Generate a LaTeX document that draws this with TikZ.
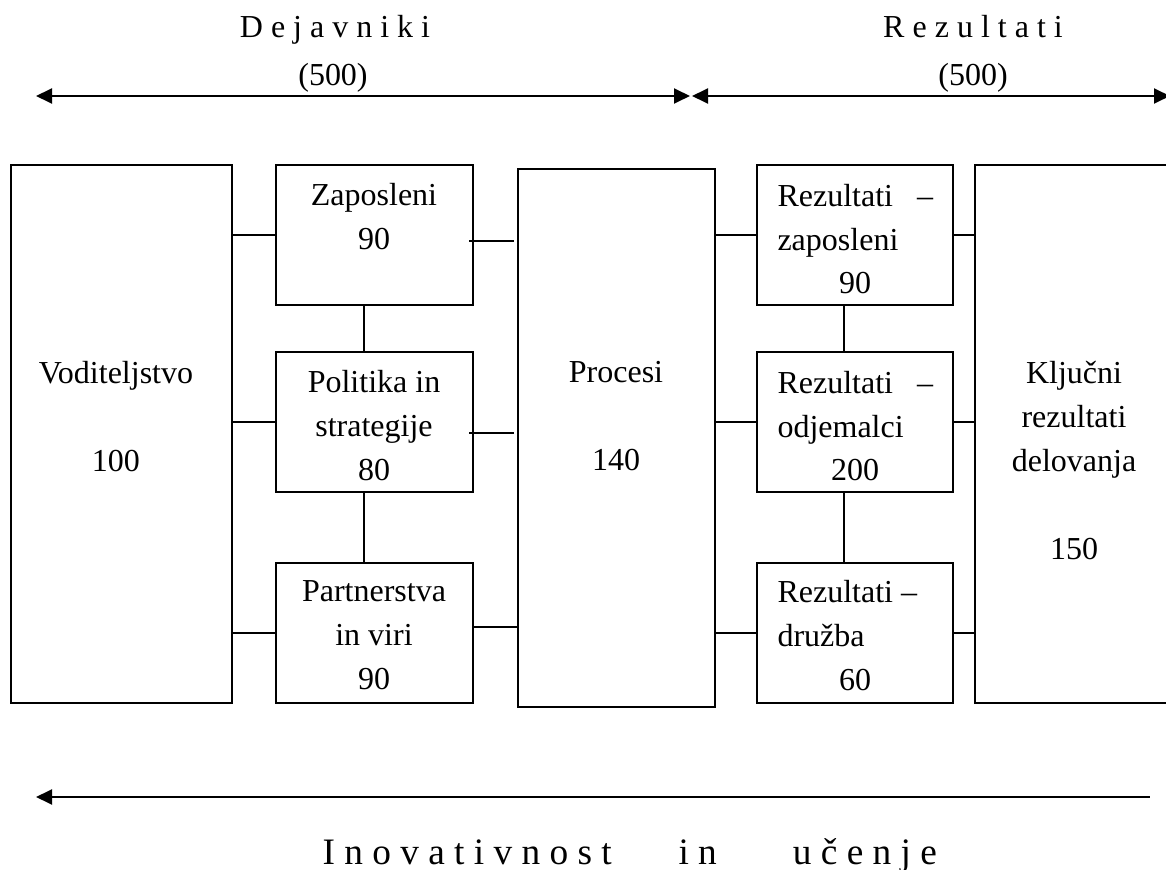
\documentclass[tikz,border=0pt]{standalone}
\usepackage{fontspec}
\setmainfont{Liberation Serif}
\usetikzlibrary{arrows.meta,calc,fit}

\begin{document}
\begin{tikzpicture}
   [x=0.375pt, y=-0.375pt,
    >={Triangle[length=6pt,width=5.6pt]},
    box/.style={draw, line width=0.9pt, inner sep=0pt, outer sep=0pt},
    link/.style={line width=0.75pt},
    arrline/.style={line width=0.8pt},
    txt/.style={font=\fontsize{12pt}{16.5pt}\selectfont, inner sep=0pt, align=center},
    big/.style={font=\fontsize{14pt}{17pt}\selectfont, inner sep=0pt}]
  \useasboundingbox (0,0) rectangle (1166,870);
     % draw headings
     \node[txt, anchor=base] (dej) at (335,38) {D e j a v n i k i};
     \node[txt, anchor=base] (dejsum) at (333,86) {(500)};
     \node[txt, anchor=base] (rez) at (973,38) {R e z u l t a t i};
     \node[txt, anchor=base] (rezsum) at (973,86) {(500)};
     \coordinate (topl) at (36,96);
     \coordinate (topm) at (690,96);
     \coordinate (topn) at (692,96);
     \coordinate (topr) at (1170,96);
     \draw [arrline, <->] (topl) -- (topm);
     \draw [arrline, <->] (topn) -- (topr);
     % draw big boxes
     \node[box, fit={(11,165) (232,703)}] (vod) {};
     \node[box, fit={(518,169) (715,707)}] (proc) {};
     \node[box, fit={(975,165) (1173,703)}] (klj) {};
     % draw small boxes
     \foreach \n/\t/\b in {1/165/305, 2/352/492, 3/563/703} {
       \node[box, fit={(276,\t) (473,\b)}] (l\n) {};
       \node[box, fit={(757,\t) (953,\b)}] (r\n) {};
     };
     % box texts
     \node[txt, anchor=north] (vodt) at (116,361) {Voditeljstvo\\[16.5pt]100};
     \node[txt, anchor=north] (l1t) at (374,183) {Zaposleni\\90};
     \node[txt, anchor=north] (l2t) at (374,370) {Politika in\\strategije\\80};
     \node[txt, anchor=north] (l3t) at (374,580) {Partnerstva\\in viri\\90};
     \node[txt, anchor=north] (proct) at (616,361) {Procesi\\[16.5pt]140};
     \node[txt, align=left, anchor=north west] (r1t) at (777,184) {Rezultati\hspace{9pt}–\\zaposleni};
     \node[txt, align=left, anchor=north west] (r2t) at (777,371) {Rezultati\hspace{9pt}–\\odjemalci};
     \node[txt, align=left, anchor=north west] (r3t) at (777,580) {Rezultati –\\družba};
     \node[txt, anchor=base] (r1v) at (855,294) {90};
     \node[txt, anchor=base] (r2v) at (855,480) {200};
     \node[txt, anchor=base] (r3v) at (855,691) {60};
     \node[txt, anchor=north] (kljt) at (1074,361) {Ključni\\rezultati\\delovanja\\[16.5pt]150};
     % draw edges
     \foreach \n in {1, 2, 3} {
       \draw [link] (vod.east |- l\n.west) -- (l\n.west);
       \draw [link] (proc.east |- r\n.west) -- (r\n.west);
       \draw [link] (r\n.east) -- (klj.west |- r\n.east);
     };
     \foreach \n/\dy/\dx in {1/6/-4, 2/11/-4, 3/-6/0} {
       \draw [link] ($(l\n.east)+(\dx,\dy)$) -- ($(proc.west |- l\n.east)+(\dx,\dy)$);
     };
     \foreach \c in {l, r} {
       \draw [link] ($(\c1.south)+(-11,0)$) -- ($(\c2.north)+(-11,0)$);
       \draw [link] ($(\c2.south)+(-11,0)$) -- ($(\c3.north)+(-11,0)$);
     };
     % bottom arrow
     \coordinate (botl) at (36,797);
     \coordinate (botr) at (1150,797);
     \draw [arrline, <-] (botl) -- (botr);
     \node[big, anchor=base west] (inov) at (322,864) {I n o v a t i v n o s t\hspace{25pt}i n\hspace{28.5pt}u č e n j e};
 \end{tikzpicture}
\end{document}
